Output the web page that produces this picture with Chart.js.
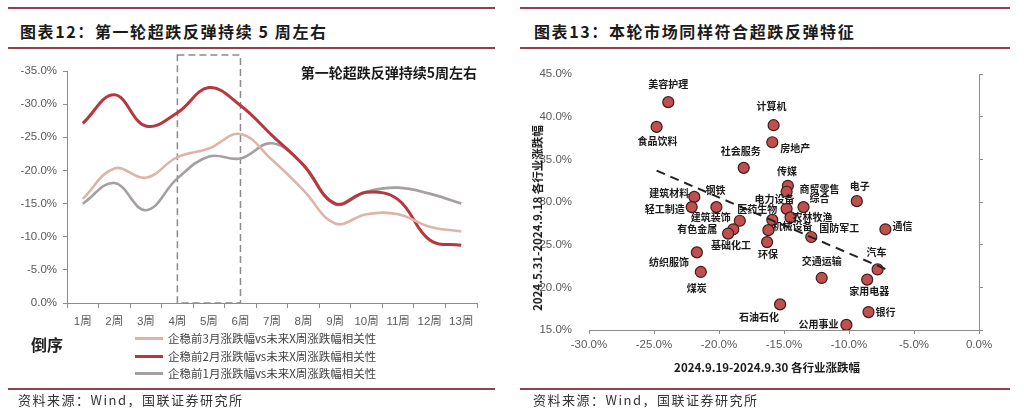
<!DOCTYPE html>
<html>
<head>
<meta charset="utf-8">
<script src="https://cdn.jsdelivr.net/npm/chart.js@4.4.1/dist/chart.umd.min.js"></script>
<style>
  body { margin: 0; background: #fff; font-family: "Noto Sans CJK SC", sans-serif; }
  #page { position: relative; width: 1024px; height: 415px; overflow: hidden; }
  .rule { position: absolute; height: 2px; background: #93414d; }
  .title { position: absolute; top: 20px; font-weight: bold; font-size: 16px; letter-spacing: 1.6px; color: #1a1a1a; line-height: 22px; }
  .source { position: absolute; top: 391px; font-size: 13px; letter-spacing: 1.5px; color: #333; line-height: 18px; }
  .box { position: absolute; }
  .legend { position: absolute; left: 135px; top: 330px; font-size: 11.5px; color: #404040; }
  .legend div { height: 17.5px; line-height: 17.5px; white-space: nowrap; }
  .legend span.swatch { display: inline-block; width: 28px; height: 3px; vertical-align: middle; margin-right: 5px; position: relative; top: -1px; }
  .axtitle { position: absolute; font-weight: bold; font-size: 11.5px; color: #1a1a1a; white-space: nowrap; }
</style>
</head>
<body>
<div id="page">
  <div class="rule" style="left:8px;top:7px;width:487px"></div>
  <div class="rule" style="left:8px;top:47px;width:487px"></div>
  <div class="rule" style="left:8px;top:388px;width:487px"></div>
  <div class="rule" style="left:520px;top:7px;width:490px"></div>
  <div class="rule" style="left:520px;top:47px;width:490px"></div>
  <div class="rule" style="left:520px;top:388px;width:490px"></div>

  <div class="title" style="left:20px">图表12：第一轮超跌反弹持续 5 周左右</div>
  <div class="title" style="left:534px">图表13：本轮市场同样符合超跌反弹特征</div>

  <div class="box" style="left:0;top:50px;width:512px;height:290px"><canvas id="lineChart"></canvas></div>
  <div class="box" style="left:512px;top:50px;width:512px;height:340px"><canvas id="scatterChart"></canvas></div>

  <div style="position:absolute;left:31px;top:332px;font-weight:bold;font-size:16px;color:#222">倒序</div>
  <div class="legend" id="legend"></div>

  <div class="axtitle" id="xTitle" style="left:767px;top:367px;transform:translate(-50%,-50%)">2024.9.19-2024.9.30 各行业涨跌幅</div>
  <div class="axtitle" id="yTitle" style="left:537px;top:218px;transform:translate(-50%,-50%) rotate(-90deg)">2024.5.31-2024.9.18 各行业涨跌幅</div>

  <div class="source" style="left:18px">资料来源：Wind，国联证券研究所</div>
  <div class="source" style="left:533px">资料来源：Wind，国联证券研究所</div>
</div>

<script>
// ---- 图表12 数据 ----
const weeks = ["1周", "2周", "3周", "4周", "5周", "6周", "7周", "8周", "9周", "10周", "11周", "12周", "13周"];
const corr3m = [-15.7, -20.3, -18.9, -22.0, -23.3, -25.5, -21.6, -17.0, -12.0, -13.4, -13.4, -11.5, -10.8];
const corr2m = [-27.1, -31.4, -26.7, -28.7, -32.5, -29.8, -25.3, -20.8, -15.0, -16.7, -15.6, -9.5, -8.7];
const corr1m = [-15.0, -18.1, -14.0, -18.8, -22.1, -21.8, -24.1, -20.8, -14.9, -16.8, -17.4, -16.5, -15.0];
const seriesNames = [
  "企稳前3月涨跌幅vs未来X周涨跌幅相关性",
  "企稳前2月涨跌幅vs未来X周涨跌幅相关性",
  "企稳前1月涨跌幅vs未来X周涨跌幅相关性"
];
const highlightWeeks = ["4周", "6周"];   // 虚线框
const noteText = "第一轮超跌反弹持续5周左右";

// ---- 图表13 数据 ----
const industries = ["美容护理", "食品饮料", "计算机", "房地产", "社会服务", "传媒", "商贸零售", "电子",
  "电力设备", "综合", "农林牧渔", "医药生物", "机械设备", "环保", "国防军工", "通信", "汽车", "交通运输",
  "家用电器", "银行", "公用事业", "石油石化", "建筑装饰", "有色金属", "基础化工", "钢铁", "建筑材料",
  "轻工制造", "纺织服饰", "煤炭"];
const chgLate = [-23.9, -24.8, -15.8, -15.9, -18.1, -14.7, -14.8, -9.4, -14.8, -13.5, -14.5, -15.9, -16.2,
  -16.3, -12.9, -7.2, -7.8, -12.1, -8.6, -8.5, -10.2, -15.3, -18.4, -18.9, -19.3, -20.2, -21.9, -22.1, -21.7, -21.4];
const chgEarly = [41.7, 38.8, 39.0, 37.0, 34.0, 31.9, 31.2, 30.1, 29.2, 29.4, 28.2, 27.9, 26.7, 25.3, 25.9,
  26.8, 22.1, 21.1, 20.9, 17.1, 15.6, 18.0, 27.8, 26.8, 26.3, 29.4, 30.6, 29.4, 24.1, 21.8];

// 标签相对点的偏移（像素）
const labelOffsets = [[0,-18],[1,14],[-2,-19],[23,6],[-3,-17],[-1,-15],[33,-3],[3,-15],[-12,-10],[16,-9],
  [22,0],[-15,-11],[24,-4],[1,12],[28,-9],[17,-3],[-1,-17],[0,-17],[2,12],[17,0],[-28,-1],[-21,13],
  [-29,-4],[-36,0],[3,12],[-1,-17],[-25,-4],[-27,2],[-28,10],[-4,16]];

const colors = ["#dcb4aa", "#b8363d", "#a59f9f"];
const tickFont = { family: "'Liberation Sans', 'Noto Sans CJK SC', sans-serif", size: 11.5 };
const axisGray = "#8c8c8c";

Chart.defaults.animation = false;
Chart.defaults.maintainAspectRatio = false;
Chart.defaults.plugins.tooltip.enabled = false;

// legend (html)
const legendEl = document.getElementById("legend");
seriesNames.forEach(function(name, i) {
  const row = document.createElement("div");
  row.innerHTML = '<span class="swatch" style="background:' + colors[i] + '"></span>' + name;
  legendEl.appendChild(row);
});

// 虚线框 + 注释
const boxPlugin = {
  id: "boxPlugin",
  beforeDatasetsDraw(chart) {
    const x = chart.scales.x, y = chart.scales.y, ctx = chart.ctx;
    const x0 = x.getPixelForValue(weeks.indexOf(highlightWeeks[0]));
    const x1 = x.getPixelForValue(weeks.indexOf(highlightWeeks[1]));
    const top = chart.chartArea.top - 16;
    const bottom = y.getPixelForValue(0);
    ctx.save();
    ctx.strokeStyle = "#8a8a8a";
    ctx.lineWidth = 1.5;
    ctx.setLineDash([7, 4]);
    ctx.strokeRect(x0, top, x1 - x0, bottom - top);
    ctx.restore();
  },
  afterDraw(chart) {
    const ctx = chart.ctx;
    ctx.save();
    ctx.font = "bold 14px 'Noto Sans CJK SC'";
    ctx.fillStyle = "#1a1a1a";
    ctx.textAlign = "right";
    ctx.textBaseline = "middle";
    ctx.fillText(noteText, chart.chartArea.right, chart.chartArea.top + 2);
    ctx.restore();
  }
};

new Chart(document.getElementById("lineChart"), {
  type: "line",
  data: {
    labels: weeks,
    datasets: [corr3m, corr2m, corr1m].map(function(d, i) {
      return {
        label: seriesNames[i],
        data: d,
        borderColor: colors[i],
        borderWidth: i === 1 ? 3 : 2.6,
        pointRadius: 0,
        tension: 0.4,
        fill: false
      };
    })
  },
  options: {
    layout: { padding: { top: 21, right: 35, left: 0, bottom: 0 } },
    plugins: { legend: { display: false } },
    scales: {
      x: {
        offset: true,
        grid: { offset: true, drawOnChartArea: false, tickLength: 5, color: axisGray },
        border: { color: axisGray },
        ticks: { font: tickFont, color: "#595959", padding: 7, maxRotation: 0 },
        afterFit(scale) { scale.height = 37; }
      },
      y: {
        reverse: true,
        min: -35,
        max: 0,
        grid: { drawOnChartArea: false, tickLength: 4, color: axisGray },
        border: { color: axisGray },
        ticks: {
          stepSize: 5, font: tickFont, color: "#595959", padding: 6,
          callback: function(v) { return (v === 0 ? 0 : v).toFixed(1) + "%"; }
        },
        afterFit(scale) { scale.width = 67; }
      }
    }
  },
  plugins: [boxPlugin]
});

// 趋势线（最小二乘，由数据计算）
function trend(xs, ys) {
  const n = xs.length;
  const mx = xs.reduce((a, b) => a + b, 0) / n;
  const my = ys.reduce((a, b) => a + b, 0) / n;
  let sxy = 0, sxx = 0;
  for (let i = 0; i < n; i++) { sxy += (xs[i] - mx) * (ys[i] - my); sxx += (xs[i] - mx) * (xs[i] - mx); }
  const k = sxy / sxx, b = my - k * mx;
  const lo = Math.min.apply(null, xs), hi = Math.max.apply(null, xs);
  return [{ x: lo, y: k * lo + b }, { x: hi, y: k * hi + b }];
}

const labelPlugin = {
  id: "pointLabels",
  afterDatasetsDraw(chart) {
    const meta = chart.getDatasetMeta(1);
    const ctx = chart.ctx;
    ctx.save();
    ctx.font = "bold 10px 'Noto Sans CJK SC'";
    ctx.fillStyle = "#1a1a1a";
    ctx.textAlign = "center";
    ctx.textBaseline = "middle";
    meta.data.forEach(function(el, i) {
      const off = labelOffsets[i];
      ctx.fillText(industries[i], el.x + off[0], el.y + off[1]);
    });
    ctx.restore();
  }
};

const pctLabel = function(v) { return v.toFixed(1) + "%"; };

new Chart(document.getElementById("scatterChart"), {
  type: "scatter",
  data: {
    datasets: [
      {
        type: "line",
        data: trend(chgLate, chgEarly),
        borderColor: "#222",
        borderWidth: 2,
        borderDash: [9, 6],
        pointRadius: 0,
        fill: false
      },
      {
        data: industries.map(function(n, i) { return { x: chgLate[i], y: chgEarly[i] }; }),
        backgroundColor: "#c0504d",
        borderColor: "#3b1c1c",
        borderWidth: 1.2,
        pointRadius: 5.5
      }
    ]
  },
  options: {
    layout: { padding: { top: 24, right: 0, left: 0, bottom: 0 } },
    plugins: { legend: { display: false } },
    scales: {
      x: {
        type: "linear",
        min: -30, max: 0,
        grid: { drawOnChartArea: false, tickLength: 4, color: axisGray },
        border: { color: axisGray },
        ticks: { stepSize: 5, font: tickFont, color: "#595959", padding: 4, callback: pctLabel },
        afterFit(scale) { scale.height = 60; }
      },
      y: {
        min: 15, max: 45,
        grid: { display: false },
        border: { display: false },
        ticks: { stepSize: 5, font: tickFont, color: "#595959", padding: 9, callback: pctLabel },
        afterFit(scale) { scale.width = 77; }
      },
      y2: {
        position: "right",
        min: 15, max: 45,
        grid: { drawOnChartArea: false, tickLength: 4, color: axisGray },
        border: { color: axisGray },
        ticks: { stepSize: 5, display: false },
        afterFit(scale) { scale.width = 45; }
      }
    }
  },
  plugins: [labelPlugin]
});
</script>
</body>
</html>
